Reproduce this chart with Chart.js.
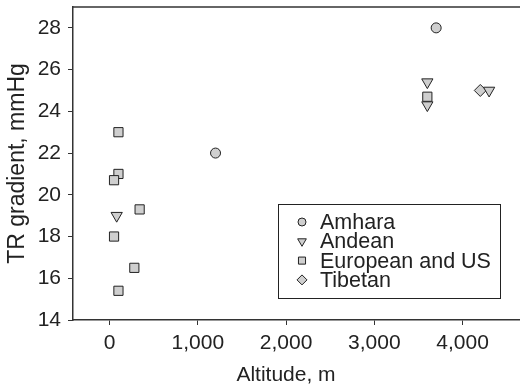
<!DOCTYPE html>
<html>
<head>
<meta charset="utf-8">
<script src="https://cdn.jsdelivr.net/npm/chart.js@4/dist/chart.umd.min.js"></script>
<style>
  html, body { margin: 0; padding: 0; background: #fff; }
  #wrap { width: 520px; height: 390px; position: relative; }
</style>
</head>
<body>
<div id="wrap"><canvas id="c"></canvas></div>
<script>
// data (altitude m, TR gradient mmHg)
const amhara = [
  { x: 1200, y: 22 },
  { x: 3700, y: 28 }
];
const andean = [
  { x: 80, y: 19 },
  { x: 3600, y: 25.4 },
  { x: 3600, y: 24.3 },
  { x: 4300, y: 25 }
];
const european = [
  { x: 100, y: 23 },
  { x: 100, y: 21 },
  { x: 50, y: 20.7 },
  { x: 340, y: 19.3 },
  { x: 50, y: 18 },
  { x: 280, y: 16.5 },
  { x: 100, y: 15.4 },
  { x: 3600, y: 24.7 }
];
const tibetan = [
  { x: 4200, y: 25 }
];
const xTicks = [0, 1000, 2000, 3000, 4000];
const yTicks = [14, 16, 18, 20, 22, 24, 26, 28];

const ink = '#222';
const fillGrey = '#cfcfcf';
const family = '"Liberation Sans", Arial, sans-serif';
const font = { family, size: 21 };

function series(label, data, style, radius, rotation) {
  return {
    label, data,
    pointStyle: style, pointRadius: radius, pointRotation: rotation || 0,
    pointBackgroundColor: fillGrey, pointBorderColor: ink, pointBorderWidth: 1,
    showLine: false
  };
}

const datasets = [
  series('Amhara', amhara, 'circle', 5),
  series('Andean', andean, 'triangle', 6.5, 180),
  series('European and US', european, 'rect', 6.5),
  series('Tibetan', tibetan, 'rectRot', 6)
];

// frame top line, x title, and the boxed legend inside the plot
const boxLegend = {
  id: 'boxLegend',
  afterDraw(chart) {
    const ctx = chart.ctx;
    const a = chart.chartArea;
    ctx.save();
    ctx.strokeStyle = '#333';
    ctx.lineWidth = 1.5;
    ctx.beginPath();
    ctx.moveTo(a.left, a.top);
    ctx.lineTo(a.right, a.top);
    ctx.stroke();

    ctx.fillStyle = ink;
    ctx.font = '21px ' + family;
    ctx.textAlign = 'center';
    ctx.textBaseline = 'middle';
    ctx.fillText('Altitude, m', 286, 375);

    const bx = 278, by = 204, bw = 222, bh = 94;
    ctx.fillStyle = '#fff';
    ctx.fillRect(bx, by, bw, bh);
    ctx.lineWidth = 1;
    ctx.strokeStyle = ink;
    ctx.strokeRect(bx + 0.5, by + 0.5, bw, bh);

    ctx.font = '21.5px ' + family;
    ctx.textAlign = 'left';
    chart.data.datasets.forEach((ds, i) => {
      const yy = 222 + i * 19.3;
      ctx.fillStyle = fillGrey;
      ctx.strokeStyle = ink;
      ctx.lineWidth = 1;
      Chart.helpers.drawPoint(ctx, {
        pointStyle: ds.pointStyle,
        rotation: ds.pointRotation,
        radius: ds.pointStyle === 'circle' ? 4 : 5,
        borderWidth: 1
      }, 302, yy);
      ctx.fillStyle = ink;
      ctx.fillText(ds.label, 320, yy + 1);
    });
    ctx.restore();
  }
};

new Chart(document.getElementById('c'), {
  type: 'scatter',
  data: { datasets },
  options: {
    responsive: true,
    maintainAspectRatio: false,
    animation: false,
    layout: { autoPadding: false, padding: { left: 0, right: 0, top: 7, bottom: 0 } },
    plugins: { legend: { display: false }, tooltip: { enabled: false } },
    scales: {
      x: {
        type: 'linear', min: -415, max: 4650,
        afterBuildTicks: s => { s.ticks = xTicks.map(v => ({ value: v })); },
        afterFit: s => { s.height = 70; s.paddingLeft = 0; s.paddingRight = 0; },
        ticks: { color: ink, font, padding: 6, maxRotation: 0,
          callback: v => v.toLocaleString('en-US') },
        grid: { drawOnChartArea: false, drawTicks: true, tickLength: 5, color: '#333' },
        border: { color: '#333', width: 1.5 }
      },
      y: {
        type: 'linear', min: 14, max: 29,
        afterBuildTicks: s => { s.ticks = yTicks.map(v => ({ value: v })); },
        afterFit: s => { s.width = 73; s.paddingTop = 0; s.paddingBottom = 0; },
        ticks: { color: ink, font, padding: 7 },
        grid: { drawOnChartArea: false, drawTicks: true, tickLength: 5, color: '#333' },
        border: { color: '#333', width: 1.5 },
        title: { display: true, text: 'TR gradient, mmHg', color: ink,
          font: { family, size: 23 }, padding: { top: 4, bottom: 0 } }
      }
    }
  },
  plugins: [boxLegend]
});
</script>
</body>
</html>
